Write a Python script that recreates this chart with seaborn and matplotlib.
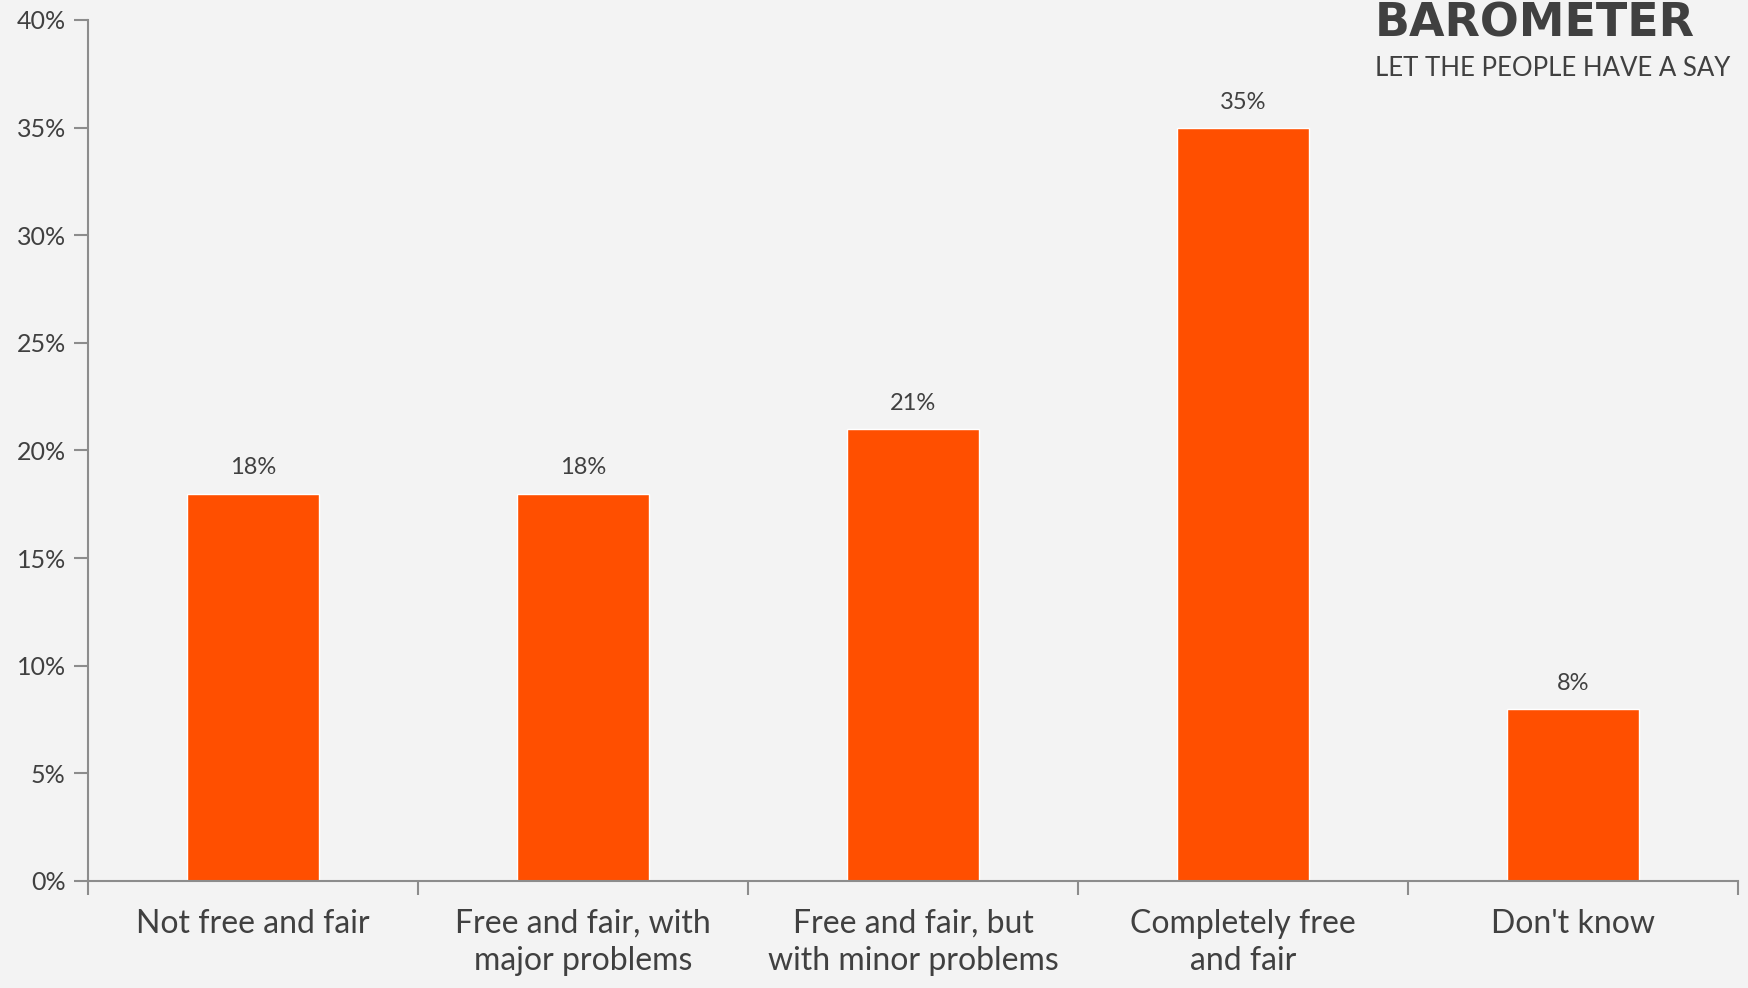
import numpy as np
import pandas as pd
import matplotlib
matplotlib.use("Agg")
import matplotlib.pyplot as plt
import seaborn as sns
from matplotlib.ticker import FixedLocator, PercentFormatter

categories = ["Not free and fair", "Free and fair, with\nmajor problems",
              "Free and fair, but\nwith minor problems", "Completely free\nand fair",
              "Don't know"]
values = [18, 18, 21, 35, 8]
y_ticks = [0, 5, 10, 15, 20, 25, 30, 35, 40]

df = pd.DataFrame({"category": categories, "value": values})

sns.set_style("white")
plt.rcParams["font.family"] = ["Lato", "DejaVu Sans"]

bg = "#f3f3f3"
fig = plt.figure(figsize=(17.49, 9.88), dpi=100, facecolor=bg)
ax = fig.add_axes([0.0503, 0.1083, 0.9434, 0.8715])
ax.set_facecolor(bg)

sns.barplot(data=df, x="category", y="value", color="#ff4f00", width=0.4,
            saturation=1, ax=ax)

for i, v in enumerate(values):
    ax.text(i, v + 0.7, f"{v}%", ha="center", va="bottom", fontsize=17, color="#404040")

ax.set_ylim(0, 40)
ax.set_xlim(-0.5, len(categories) - 0.5)
ax.set_yticks(y_ticks)
ax.yaxis.set_major_formatter(PercentFormatter(decimals=0))
ax.tick_params(axis="y", labelsize=18, colors="#404040", length=10, width=1.5,
               color="#8c8c8c", pad=6, left=True)
ax.tick_params(axis="x", which="major", length=0, labelsize=23, labelcolor="#404040", pad=20)
for lbl in ax.get_xticklabels():
    lbl.set_linespacing(1.3)
ax.xaxis.set_minor_locator(FixedLocator(np.arange(-0.5, len(categories), 1.0)))
ax.tick_params(axis="x", which="minor", length=10, width=1.5, color="#8c8c8c", bottom=True)
ax.set_xlabel("")
ax.set_ylabel("")

for s in ["top", "right"]:
    ax.spines[s].set_visible(False)
for s in ["left", "bottom"]:
    ax.spines[s].set_color("#8c8c8c")
    ax.spines[s].set_linewidth(1.5)

# logo
fig.text(0.786, 0.998, "BAROMETER", fontsize=33, fontweight="bold", color="#404040",
         ha="left", va="top", family="DejaVu Sans")
fig.text(0.786, 0.943, "LET THE PEOPLE HAVE A SAY", fontsize=18.5, color="#404040",
         ha="left", va="top")

fig.savefig("out.png", dpi=100, facecolor=bg)
